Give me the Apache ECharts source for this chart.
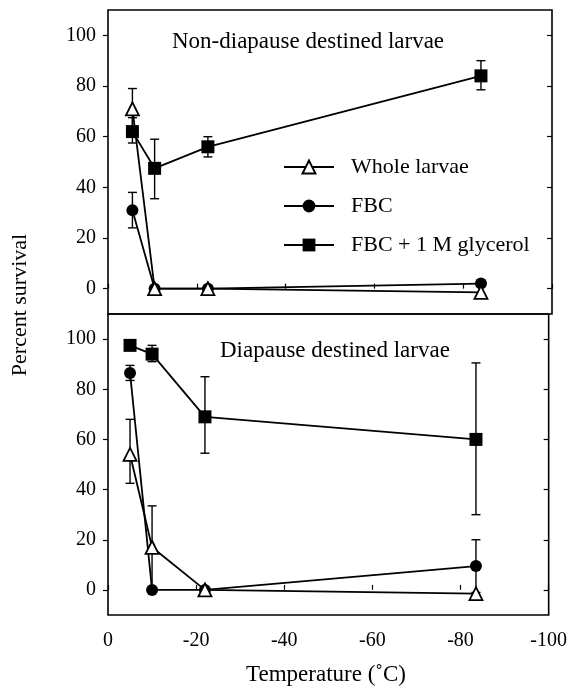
<!DOCTYPE html>
<html>
<head>
<meta charset="utf-8">
<script src="https://cdn.jsdelivr.net/npm/echarts@6/dist/echarts.min.js"></script>
<style>
  html, body { margin: 0; padding: 0; background: #fff; }
  #chart { width: 570px; height: 690px; }
</style>
</head>
<body>
<div id="chart"></div>
<script>
// temperatures (deg C)
const tempTop = [-5.5, -10.5, -22.5, -84];
const tempBottom = [-5, -10, -22, -83.5];

// Non-diapause destined larvae (top panel)
const wholeTop = [71, 0, 0, -1.5];
const wholeTopErr = [[63, 79], null, null, null];
const fbcTop = [31, 0, 0, 2];
const fbcTopErr = [[24, 38], null, null, null];
const glyTop = [62, 47.5, 56, 84];
const glyTopErr = [[57.5, 67.5], [35.5, 59], [52, 60], [78.5, 90]];

// Diapause destined larvae (bottom panel)
const wholeBottom = [54, 17, 0, -1.5];
const wholeBottomErr = [[42.5, 68], [0.5, 33.5], null, null];
const fbcBottom = [86.5, 0, 0, 9.5];
const fbcBottomErr = [[83.5, 89.5], null, null, [-1, 20]];
const glyBottom = [97.5, 94, 69, 60];
const glyBottomErr = [null, [91, 97.5], [54.5, 85], [30, 90.5]];

const yTicks = [0, 20, 40, 60, 80, 100];
const seriesNames = ['Whole larvae', 'FBC', 'FBC + 1 M glycerol'];

const FONT = "'Liberation Serif', 'DejaVu Serif', serif";

var myChart = echarts.init(document.getElementById('chart'));

function pts(xs, ys) {
  return xs.map(function (x, i) { return [x, ys[i]]; });
}

function errData(xs, errs) {
  var out = [];
  errs.forEach(function (e, i) {
    if (e) out.push([xs[i], e[0], e[1]]);
  });
  return out;
}

function errorSeries(idx, xs, errs) {
  return {
    type: 'custom',
    xAxisIndex: idx,
    yAxisIndex: idx * 2,
    z: 1,
    silent: true,
    data: errData(xs, errs),
    renderItem: function (params, api) {
      var lo = api.coord([api.value(0), api.value(1)]);
      var hi = api.coord([api.value(0), api.value(2)]);
      var w = 4.5;
      var st = { stroke: '#000', lineWidth: 1.4 };
      return {
        type: 'group',
        children: [
          { type: 'line', shape: { x1: lo[0], y1: lo[1], x2: hi[0], y2: hi[1] }, style: st },
          { type: 'line', shape: { x1: lo[0] - w, y1: lo[1], x2: lo[0] + w, y2: lo[1] }, style: st },
          { type: 'line', shape: { x1: hi[0] - w, y1: hi[1], x2: hi[0] + w, y2: hi[1] }, style: st }
        ]
      };
    }
  };
}

function lineSeries(name, idx, xs, ys, symbol) {
  var s = {
    name: name,
    type: 'line',
    xAxisIndex: idx,
    yAxisIndex: idx * 2,
    z: 3,
    data: pts(xs, ys),
    symbol: symbol,
    symbolSize: symbol === 'rect' ? 13 : (symbol === 'triangle' ? 13 : 12),
    showAllSymbol: true,
    lineStyle: { color: '#000', width: 1.8 },
    itemStyle: { color: '#000', borderColor: '#000', borderWidth: 0 }
  };
  if (symbol === 'triangle') {
    s.z = 4;
    s.itemStyle = { color: '#fff', borderColor: '#000', borderWidth: 1.8 };
  }
  return s;
}

function xAx(idx, showLabel) {
  return {
    type: 'value',
    gridIndex: idx,
    position: 'bottom',
    min: -100,
    max: 0,
    interval: 20,
    inverse: true,
    axisLine: { show: false },
    axisTick: { show: true, inside: true, length: 5, lineStyle: { color: '#000', width: 1.2 } },
    axisLabel: {
      show: showLabel,
      margin: 16,
      color: '#000',
      fontFamily: FONT,
      fontSize: 20
    },
    splitLine: { show: false }
  };
}

function yAx(idx, pos) {
  var left = pos === 'left';
  return {
    type: 'value',
    gridIndex: idx,
    position: pos,
    min: -10,
    max: 110,
    axisLine: { show: false },
    axisTick: {
      show: true,
      inside: !left,
      length: 5,
      customValues: yTicks,
      lineStyle: { color: '#000', width: 1.2 }
    },
    axisLabel: {
      show: left,
      customValues: yTicks,
      margin: 12,
      color: '#000',
      fontFamily: FONT,
      fontSize: 20
    },
    splitLine: { show: false }
  };
}

var option = {
  animation: false,
  backgroundColor: '#fff',
  grid: [
    { left: 108, top: 10, width: 444, height: 304, show: true, borderColor: '#000', borderWidth: 1.6, backgroundColor: 'transparent' },
    { left: 108, top: 314, width: 442, height: 301, show: true, borderColor: '#000', borderWidth: 1.6, backgroundColor: 'transparent' }
  ],
  xAxis: [xAx(0, false), xAx(1, true)],
  yAxis: [yAx(0, 'left'), yAx(0, 'right'), yAx(1, 'left'), yAx(1, 'right')],
  legend: {
    data: seriesNames,
    orient: 'vertical',
    left: 278,
    top: 151,
    itemWidth: 50,
    itemHeight: 16,
    itemGap: 17,
    selectedMode: false,
    textStyle: { color: '#000', fontFamily: FONT, fontSize: 22, padding: [0, 0, 0, 12] }
  },
  graphic: [
    {
      type: 'text', left: 172, top: 30,
      style: { text: 'Non-diapause destined larvae', fill: '#000', font: '23px ' + FONT }
    },
    {
      type: 'text', left: 220, top: 339,
      style: { text: 'Diapause destined larvae', fill: '#000', font: '23px ' + FONT }
    },
    {
      type: 'text', x: 20, y: 305, rotation: Math.PI / 2,
      style: { text: 'Percent survival', fill: '#000', font: '22px ' + FONT, align: 'center', verticalAlign: 'middle' }
    },
    {
      type: 'text', x: 326, y: 675,
      style: { text: 'Temperature (\u02DAC)', fill: '#000', font: '23px ' + FONT, align: 'center', verticalAlign: 'middle' }
    }
  ],
  series: [
    errorSeries(0, tempTop, fbcTopErr),
    errorSeries(0, tempTop, glyTopErr),
    errorSeries(0, tempTop, wholeTopErr),
    lineSeries('FBC', 0, tempTop, fbcTop, 'circle'),
    lineSeries('FBC + 1 M glycerol', 0, tempTop, glyTop, 'rect'),
    lineSeries('Whole larvae', 0, tempTop, wholeTop, 'triangle'),

    errorSeries(1, tempBottom, fbcBottomErr),
    errorSeries(1, tempBottom, glyBottomErr),
    errorSeries(1, tempBottom, wholeBottomErr),
    lineSeries('FBC', 1, tempBottom, fbcBottom, 'circle'),
    lineSeries('FBC + 1 M glycerol', 1, tempBottom, glyBottom, 'rect'),
    lineSeries('Whole larvae', 1, tempBottom, wholeBottom, 'triangle')
  ]
};

myChart.setOption(option);
</script>
</body>
</html>
